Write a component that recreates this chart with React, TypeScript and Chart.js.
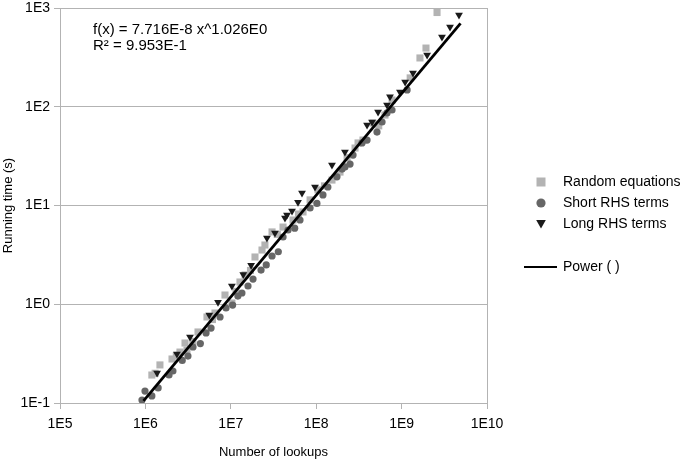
import React, { useEffect, useRef } from 'react';
import { Chart, registerables } from 'chart.js';

Chart.register(...registerables);

// Series: Random equations (squares)
const randomX = [1.19e6, 1.3e6, 1.48e6, 2.05e6, 2.3e6, 2.54e6, 2.91e6, 3.07e6, 3.6e6, 4.13e6, 5.26e6, 6.1e6, 6.53e6, 8.55e6, 1.03e7, 1.15e7, 1.28e7, 1.47e7, 1.7e7, 1.92e7, 2.32e7, 2.51e7, 3.04e7, 3.5e7, 4.09e7, 5.35e7, 6.2e7, 7.01e7, 8.48e7, 1.05e8, 1.25e8, 1.53e8, 1.9e8, 2.3e8, 2.85e8, 3.09e8, 3.53e8, 4.63e8, 5.4e8, 6.39e8, 7.72e8, 1.26e9, 1.64e9, 1.93e9, 2.6e9];
const randomY = [0.192, 0.2, 0.243, 0.279, 0.3, 0.328, 0.405, 0.344, 0.42, 0.524, 0.743, 0.7, 0.815, 1.24, 1.03, 1.35, 1.68, 1.98, 2.2, 3.01, 3.54, 3.98, 5.4, 5.1, 6.05, 7.13, 8.2, 8.6, 11.4, 14.4, 15.8, 18.1, 21.8, 30.5, 38.2, 43.0, 46.0, 68.4, 64.0, 82.4, 117, 196, 312, 393, 900];

// Series: Short RHS terms (circles)
const shortX = [9.12e5, 9.89e5, 1.19e6, 1.41e6, 1.89e6, 2.1e6, 2.7e6, 3.15e6, 3.61e6, 4.4e6, 5.13e6, 5.87e6, 7.48e6, 8.79e6, 1.05e7, 1.21e7, 1.35e7, 1.59e7, 1.82e7, 2.26e7, 2.6e7, 3.04e7, 3.6e7, 4.09e7, 4.68e7, 5.6e7, 6.46e7, 8.48e7, 1.02e8, 1.2e8, 1.37e8, 1.75e8, 2.01e8, 2.17e8, 2.49e8, 2.7e8, 3.44e8, 3.94e8, 5.15e8, 5.9e8, 6.75e8, 7.72e8, 1.16e9];
const shortY = [0.107, 0.132, 0.118, 0.142, 0.192, 0.211, 0.27, 0.299, 0.369, 0.4, 0.512, 0.574, 0.743, 0.916, 0.98, 1.21, 1.3, 1.53, 1.8, 2.22, 2.5, 3.08, 3.4, 4.8, 5.65, 5.9, 7.13, 9.43, 10.5, 12.8, 15.4, 19.5, 23.4, 24.6, 26.3, 32.4, 43.0, 46.0, 55.4, 70.1, 86.5, 92.7, 148];

// Series: Long RHS terms (down triangles)
const longX = [1.37e6, 2.34e6, 3.33e6, 5.6e6, 7.08e6, 1.03e7, 1.4e7, 1.73e7, 2.65e7, 3.29e7, 4.31e7, 4.55e7, 5.21e7, 6.12e7, 6.82e7, 9.68e7, 1.53e8, 2.17e8, 3.94e8, 4.51e8, 5.3e8, 6.75e8, 7.31e8, 9.57e8, 1.1e9, 1.36e9, 1.99e9, 2.97e9, 3.69e9, 4.7e9];
const longY = [0.201, 0.313, 0.466, 0.78, 1.05, 1.53, 2.0, 2.49, 4.69, 5.26, 7.46, 8.01, 8.79, 10.8, 13.4, 15.4, 25.7, 34.8, 65.3, 70.1, 88.5, 104, 126, 141, 178, 220, 334, 508, 643, 849];

// Power trend line endpoints
const powerX = [9.5e5, 4.9e9];
const powerY = [0.105, 700];

const xTickValues = [1e5, 1e6, 1e7, 1e8, 1e9, 1e10];
const xTickLabels = ['1E5', '1E6', '1E7', '1E8', '1E9', '1E10'];
const yTickValues = [0.1, 1, 10, 100, 1000];
const yTickLabels = ['1E-1', '1E0', '1E1', '1E2', '1E3'];

const legendLabels = ['Random equations', 'Short RHS terms', 'Long RHS terms', 'Power ( )'];
const equationLines = ['f(x) = 7.716E-8 x^1.026E0', 'R² = 9.953E-1'];

const FONT = "'Liberation Sans', Arial, sans-serif";
const GRID = '#b3b3b3';
const C_RANDOM = '#b3b3b3';
const C_SHORT = '#666666';
const C_LONG = '#1a1a1a';

export default function App() {
  const ref = useRef<HTMLCanvasElement>(null);

  useEffect(() => {
    const canvas = ref.current;
    if (!canvas) return;
    const toPts = (xs: number[], ys: number[]) => xs.map((x, i) => ({ x, y: ys[i] }));

    const overlay = {
      id: 'overlay',
      afterDraw(chart: any) {
        const ctx = chart.ctx as CanvasRenderingContext2D;
        ctx.save();
        ctx.fillStyle = '#000';
        ctx.font = `15px ${FONT}`;
        ctx.textAlign = 'left';
        ctx.textBaseline = 'middle';
        ctx.fillText(equationLines[0], 93, 30);
        ctx.fillText(equationLines[1], 93, 46);

        const mx = 541;
        const tx = 563;
        ctx.font = `14px ${FONT}`;
        ctx.fillStyle = C_RANDOM;
        ctx.fillRect(mx - 4.5, 182 - 4.5, 9, 9);
        ctx.fillStyle = C_SHORT;
        ctx.beginPath();
        ctx.arc(mx, 203, 4.6, 0, Math.PI * 2);
        ctx.fill();
        ctx.fillStyle = C_LONG;
        ctx.beginPath();
        ctx.moveTo(mx - 4.8, 220);
        ctx.lineTo(mx + 4.8, 220);
        ctx.lineTo(mx, 228.5);
        ctx.closePath();
        ctx.fill();
        ctx.strokeStyle = '#000';
        ctx.lineWidth = 2;
        ctx.beginPath();
        ctx.moveTo(524, 267);
        ctx.lineTo(557, 267);
        ctx.stroke();

        ctx.fillStyle = '#000';
        ctx.fillText(legendLabels[0], tx, 182);
        ctx.fillText(legendLabels[1], tx, 203);
        ctx.fillText(legendLabels[2], tx, 224);
        ctx.fillText(legendLabels[3], tx, 267);
        ctx.restore();
      },
    };

    const chart = new Chart(canvas, {
      type: 'scatter',
      data: {
        datasets: [
          {
            label: legendLabels[3],
            data: toPts(powerX, powerY),
            showLine: true,
            borderColor: '#000',
            borderWidth: 2.8,
            pointRadius: 0,
            order: 1,
          } as any,
          {
            label: legendLabels[2],
            data: toPts(longX, longY),
            pointStyle: 'triangle',
            pointRotation: 180,
            pointRadius: 4.5,
            pointBackgroundColor: C_LONG,
            pointBorderColor: C_LONG,
            pointBorderWidth: 0,
            order: 2,
          },
          {
            label: legendLabels[1],
            data: toPts(shortX, shortY),
            pointStyle: 'circle',
            pointRadius: 3.6,
            pointBackgroundColor: C_SHORT,
            pointBorderColor: C_SHORT,
            pointBorderWidth: 0,
            order: 3,
          },
          {
            label: legendLabels[0],
            data: toPts(randomX, randomY),
            pointStyle: 'rect',
            pointRadius: 5,
            pointBackgroundColor: C_RANDOM,
            pointBorderColor: C_RANDOM,
            pointBorderWidth: 0,
            order: 4,
          },
        ],
      },
      options: {
        responsive: false,
        animation: false,
        devicePixelRatio: 1,
        layout: { padding: { left: 0, top: 8, right: 198, bottom: 0 } },
        plugins: {
          legend: { display: false },
          tooltip: { enabled: false },
        },
        scales: {
          x: {
            type: 'logarithmic',
            position: 'bottom',
            min: 1e5,
            max: 1e10,
            afterBuildTicks: (s: any) => {
              s.ticks = xTickValues.map((v) => ({ value: v }));
            },
            afterFit: (s: any) => {
              s.height = 57;
            },
            ticks: {
              autoSkip: false,
              maxRotation: 0,
              color: '#000',
              font: { family: FONT, size: 14 },
              padding: 7,
              callback: (_v: any, i: number) => xTickLabels[i],
            },
            grid: {
              color: (c: any) => (c.index === xTickValues.length - 1 ? GRID : 'rgba(0,0,0,0)'),
              tickColor: GRID,
              tickLength: 6,
              drawTicks: true,
            },
            border: { display: true, color: GRID },
            title: {
              display: true,
              text: 'Number of lookups',
              color: '#000',
              font: { family: FONT, size: 13 },
              padding: { top: 0, bottom: 0 },
            },
          },
          y: {
            type: 'logarithmic',
            position: 'left',
            min: 0.1,
            max: 1000,
            afterBuildTicks: (s: any) => {
              s.ticks = yTickValues.map((v) => ({ value: v }));
            },
            afterFit: (s: any) => {
              s.width = 60;
              s.paddingTop = 0;
              s.paddingBottom = 0;
            },
            ticks: {
              autoSkip: false,
              color: '#000',
              font: { family: FONT, size: 14 },
              padding: 4,
              callback: (_v: any, i: number) => yTickLabels[i],
            },
            grid: {
              color: GRID,
              tickColor: GRID,
              tickLength: 6,
            },
            border: { display: true, color: GRID },
            title: {
              display: true,
              text: 'Running time (s)',
              color: '#000',
              font: { family: FONT, size: 13 },
              padding: { top: 1, bottom: 0 },
            },
          },
        },
      },
      plugins: [overlay],
    } as any);

    return () => chart.destroy();
  }, []);

  return (
    <div style={{ position: 'absolute', left: 0, top: 0, width: 685, height: 460 }}>
      <canvas ref={ref} width={685} height={460} style={{ width: 685, height: 460, display: 'block' }} />
    </div>
  );
}
